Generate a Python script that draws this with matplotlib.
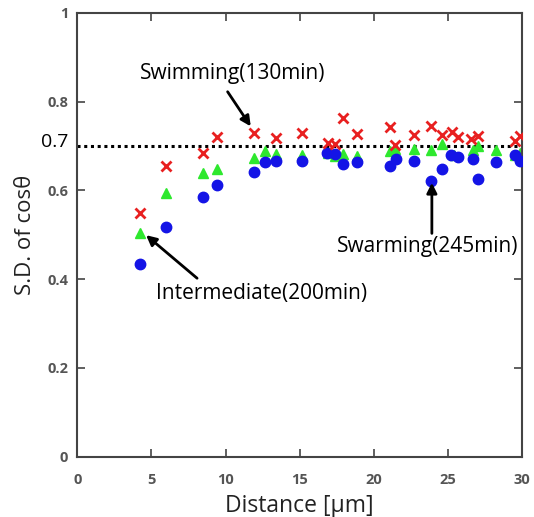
import matplotlib
matplotlib.use("Agg")
import matplotlib.pyplot as plt

swim_x = [4.22, 5.97, 8.45, 9.41, 11.93, 13.40, 15.15, 16.91, 17.37, 17.90, 18.87,
          21.07, 21.46, 22.72, 23.87, 24.60, 25.29, 25.66, 26.58, 27.04, 29.54, 29.88]
swim_y = [0.550, 0.655, 0.683, 0.719, 0.730, 0.717, 0.730, 0.707, 0.704, 0.762, 0.727,
          0.742, 0.701, 0.724, 0.745, 0.724, 0.731, 0.719, 0.716, 0.722, 0.712, 0.722]

inter_x = [4.22, 5.97, 8.45, 9.41, 11.93, 12.67, 13.40, 15.15, 16.91, 17.37, 17.90, 18.87,
           21.07, 21.46, 22.72, 23.87, 24.60, 25.40, 26.67, 27.04, 28.28, 29.54, 29.84]
inter_y = [0.503, 0.595, 0.638, 0.649, 0.673, 0.689, 0.682, 0.679, 0.685, 0.677, 0.682, 0.677,
           0.689, 0.692, 0.692, 0.691, 0.704, 0.680, 0.690, 0.700, 0.691, 0.679, 0.684]

swarm_x = [4.22, 5.97, 8.45, 9.41, 11.93, 12.67, 13.40, 15.15, 16.85, 17.37, 17.90, 18.87,
           21.07, 21.50, 22.72, 23.87, 24.60, 25.23, 25.66, 26.67, 27.04, 28.28, 29.54, 29.84]
swarm_y = [0.434, 0.518, 0.586, 0.613, 0.642, 0.663, 0.666, 0.666, 0.683, 0.681, 0.659, 0.663,
           0.655, 0.671, 0.666, 0.622, 0.648, 0.679, 0.676, 0.671, 0.625, 0.663, 0.679, 0.666]

x_ticks = [0, 5, 10, 15, 20, 25, 30]
y_ticks = [0, 0.2, 0.4, 0.6, 0.8, 1]
y_tick_labels = ["0", "0.2", "0.4", "0.6", "0.8", "1"]
threshold = 0.7

plt.rcParams['font.family'] = ['Open Sans', 'DejaVu Sans']

fig = plt.figure(figsize=(5.34, 5.17), dpi=100)
ax = fig.add_axes([0.1448, 0.1166, 0.8327, 0.8588])

ax.axhline(threshold, color='black', linestyle=(0, (1, 1.2)), linewidth=2.2, zorder=1)

ax.plot(inter_x, inter_y, linestyle='none', marker='^', markersize=7.5,
        color='#2ee82e', zorder=2)
ax.plot(swarm_x, swarm_y, linestyle='none', marker='o', markersize=7.5,
        color='#1414e6', zorder=3)
ax.plot(swim_x, swim_y, linestyle='none', marker='x', markersize=7,
        markeredgewidth=2, color='#e82020', zorder=4)

ax.set_xlim(0, 30)
ax.set_ylim(0, 1)
ax.set_xticks(x_ticks)
ax.set_yticks(y_ticks)
ax.set_xticklabels([str(t) for t in x_ticks], fontsize=10.5, fontweight='bold', color='#555555')
ax.set_yticklabels(y_tick_labels, fontsize=10.5, fontweight='bold', color='#555555')
ax.tick_params(direction='in', length=6, width=1.2, color='#444444',
               top=True, right=True)
ax.tick_params(axis='y', pad=6.5)
ax.tick_params(axis='x', pad=12)
for s in ax.spines.values():
    s.set_color('#444444')
    s.set_linewidth(1.5)

ax.text(-0.6, threshold + 0.008, "0.7", fontsize=14, color='black', ha='right', va='center')

ax.set_xlabel("Distance [μm]", fontsize=16.5, color='#222222', labelpad=5)
ax.set_ylabel("S.D. of cosθ", fontsize=16, color='#222222', labelpad=8)

arrow = dict(arrowstyle='-|>', color='black', lw=2, shrinkA=0, shrinkB=0,
             mutation_scale=15)

ax.text(4.22, 0.863, "Swimming(130min)", fontsize=15, color='black',
        ha='left', va='center')
ax.annotate("", xy=(11.7, 0.744), xytext=(10.14, 0.822), arrowprops=arrow)

ax.annotate("", xy=(4.64, 0.499), xytext=(8.08, 0.402), arrowprops=arrow)
ax.text(5.28, 0.368, "Intermediate(200min)", fontsize=15, color='black',
        ha='left', va='center')

ax.annotate("", xy=(23.92, 0.617), xytext=(23.92, 0.503), arrowprops=arrow)
ax.text(17.49, 0.473, "Swarming(245min)", fontsize=15, color='black',
        ha='left', va='center')

fig.savefig("out.png", dpi=100)
